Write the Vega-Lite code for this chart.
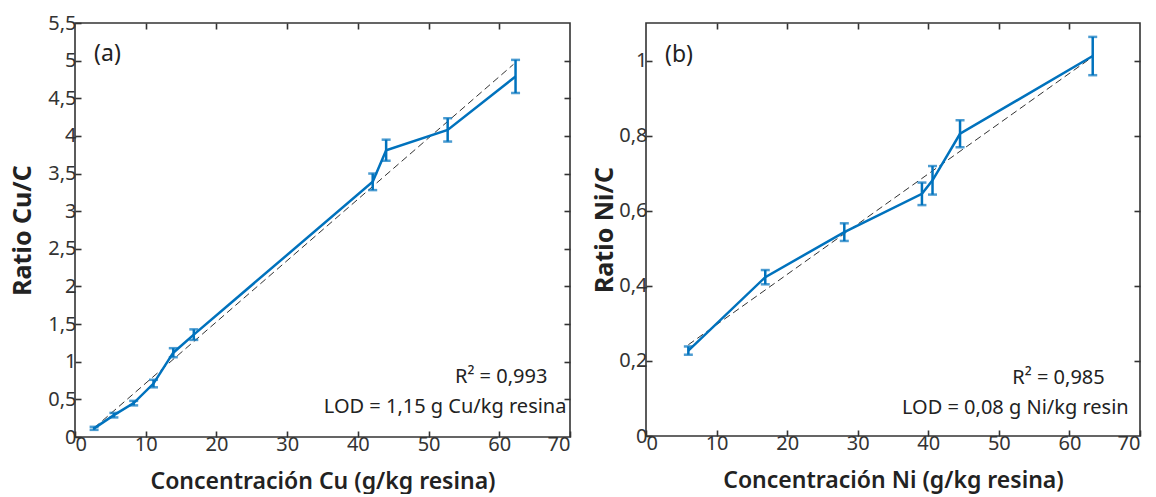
{
  "$schema": "https://vega.github.io/schema/vega-lite/v6.json",
  "padding": {"left": 9, "top": 12, "right": 5, "bottom": 0},
  "spacing": 19,
  "config": {
    "font": "Noto Sans",
    "view": {"stroke": "#333", "strokeWidth": 1.6},
    "axis": {
      "domain": false,
      "grid": false,
      "tickColor": "#333",
      "tickSize": -6,
      "tickWidth": 1.6,
      "labelFontSize": 20,
      "labelColor": "#333",
      "labelFont": "Noto Sans",
      "labelFontWeight": "normal",
      "titleFont": "Noto Sans",
      "titleColor": "#222",
      "titleFontWeight": 600
    }
  },
  "datasets": {
    "one": [{"n": 1}],
    "cu": [
      {"conc": 2.7, "ratio": 0.115, "err": 0.02},
      {"conc": 5.5, "ratio": 0.29, "err": 0.03},
      {"conc": 8.3, "ratio": 0.45, "err": 0.03},
      {"conc": 11.1, "ratio": 0.71, "err": 0.05},
      {"conc": 13.9, "ratio": 1.12, "err": 0.06},
      {"conc": 16.8, "ratio": 1.36, "err": 0.07},
      {"conc": 42.1, "ratio": 3.39, "err": 0.11},
      {"conc": 44.0, "ratio": 3.81, "err": 0.14},
      {"conc": 52.7, "ratio": 4.08, "err": 0.155},
      {"conc": 62.3, "ratio": 4.79, "err": 0.22}
    ],
    "cuFit": [
      {"conc": 2.7, "ratio": 0.12},
      {"conc": 62.0, "ratio": 4.95}
    ],
    "ni": [
      {"conc": 6.0, "ratio": 0.2275, "err": 0.011},
      {"conc": 16.9, "ratio": 0.423, "err": 0.019},
      {"conc": 28.1, "ratio": 0.543, "err": 0.0235},
      {"conc": 39.1, "ratio": 0.645, "err": 0.03},
      {"conc": 40.6, "ratio": 0.681, "err": 0.038},
      {"conc": 44.5, "ratio": 0.805, "err": 0.036},
      {"conc": 63.3, "ratio": 1.012, "err": 0.051}
    ],
    "niFit": [
      {"conc": 6.0, "ratio": 0.243},
      {"conc": 63.3, "ratio": 1.01}
    ]
  },
  "hconcat": [
    {
      "width": 495,
      "height": 414,
      "resolve": {"axis": {"x": "independent", "y": "independent"}},
      "layer": [
        {
          "data": {"name": "cuFit"},
          "mark": {"type": "line", "color": "#333", "strokeWidth": 1, "strokeDash": [7, 4]},
          "encoding": {
            "x": {"field": "conc", "type": "quantitative", "scale": {"domain": [0, 70], "nice": false},
              "axis": {"orient": "bottom", "values": [0, 10, 20, 30, 40, 50, 60, 70], "labelPadding": 3, "title": "Concentración Cu (g/kg resina)", "titleFontSize": 23, "titlePadding": 16}},
            "y": {"field": "ratio", "type": "quantitative", "scale": {"domain": [0, 5.5], "nice": false},
              "axis": {"orient": "left", "values": [0, 0.5, 1, 1.5, 2, 2.5, 3, 3.5, 4, 4.5, 5, 5.5], "labelExpr": "replace(toString(datum.value), '.', ',')", "labelPadding": 5, "title": "Ratio Cu/C", "titleFontSize": 25, "titleFontWeight": 700, "titlePadding": 12}}
          }
        },
        {
          "data": {"name": "cuFit"},
          "mark": {"type": "line", "opacity": 0},
          "encoding": {
            "x": {"field": "conc", "type": "quantitative", "axis": {"orient": "top", "values": [10, 20, 30, 40, 50, 60], "labels": false, "title": null}},
            "y": {"field": "ratio", "type": "quantitative", "axis": {"orient": "right", "values": [0.5, 1, 1.5, 2, 2.5, 3, 3.5, 4, 4.5, 5], "labels": false, "title": null}}
          }
        },
        {
          "data": {"name": "cu"},
          "mark": {"type": "line", "color": "#0072BD", "strokeWidth": 2.5},
          "encoding": {
            "x": {"field": "conc", "type": "quantitative", "axis": null},
            "y": {"field": "ratio", "type": "quantitative", "axis": null}
          }
        },
        {
          "data": {"name": "cu"},
          "mark": {"type": "errorbar", "color": "#0072BD", "thickness": 2.5, "ticks": {"size": 9, "thickness": 2.5, "color": "#0072BD"}},
          "encoding": {
            "x": {"field": "conc", "type": "quantitative", "axis": null},
            "y": {"field": "ratio", "type": "quantitative", "axis": null},
            "yError": {"field": "err"}
          }
        },
        {
          "data": {"name": "one"},
          "mark": {"type": "text", "text": "(a)", "align": "left", "baseline": "alphabetic", "fontSize": 23, "fontWeight": 400, "color": "#222"},
          "encoding": {
            "x": {"datum": 2.7, "type": "quantitative", "axis": null},
            "y": {"datum": 4.99, "type": "quantitative", "axis": null}
          }
        },
        {
          "data": {"name": "one"},
          "mark": {"type": "text", "text": "R² = 0,993", "align": "right", "baseline": "alphabetic", "fontSize": 20, "fontWeight": 400, "color": "#222"},
          "encoding": {
            "x": {"datum": 66.8, "type": "quantitative", "axis": null},
            "y": {"datum": 0.72, "type": "quantitative", "axis": null}
          }
        },
        {
          "data": {"name": "one"},
          "mark": {"type": "text", "text": "LOD = 1,15 g Cu/kg resina", "align": "right", "baseline": "alphabetic", "fontSize": 20, "fontWeight": 400, "color": "#222"},
          "encoding": {
            "x": {"datum": 69.5, "type": "quantitative", "axis": null},
            "y": {"datum": 0.32, "type": "quantitative", "axis": null}
          }
        }
      ]
    },
    {
      "width": 494,
      "height": 413,
      "resolve": {"axis": {"x": "independent", "y": "independent"}},
      "layer": [
        {
          "data": {"name": "niFit"},
          "mark": {"type": "line", "color": "#333", "strokeWidth": 1, "strokeDash": [7, 4]},
          "encoding": {
            "x": {"field": "conc", "type": "quantitative", "scale": {"domain": [0, 70], "nice": false},
              "axis": {"orient": "bottom", "values": [0, 10, 20, 30, 40, 50, 60, 70], "labelPadding": 3, "title": "Concentración Ni (g/kg resina)", "titleFontSize": 23, "titlePadding": 16}},
            "y": {"field": "ratio", "type": "quantitative", "scale": {"domain": [0, 1.1], "nice": false},
              "axis": {"orient": "left", "values": [0, 0.2, 0.4, 0.6, 0.8, 1], "labelExpr": "replace(toString(datum.value), '.', ',')", "labelPadding": 5, "title": "Ratio Ni/C", "titleFontSize": 25, "titleFontWeight": 700, "titlePadding": 1}}
          }
        },
        {
          "data": {"name": "niFit"},
          "mark": {"type": "line", "opacity": 0},
          "encoding": {
            "x": {"field": "conc", "type": "quantitative", "axis": {"orient": "top", "values": [10, 20, 30, 40, 50, 60], "labels": false, "title": null}},
            "y": {"field": "ratio", "type": "quantitative", "axis": {"orient": "right", "values": [0.2, 0.4, 0.6, 0.8, 1], "labels": false, "title": null}}
          }
        },
        {
          "data": {"name": "ni"},
          "mark": {"type": "line", "color": "#0072BD", "strokeWidth": 2.5},
          "encoding": {
            "x": {"field": "conc", "type": "quantitative", "axis": null},
            "y": {"field": "ratio", "type": "quantitative", "axis": null}
          }
        },
        {
          "data": {"name": "ni"},
          "mark": {"type": "errorbar", "color": "#0072BD", "thickness": 2.5, "ticks": {"size": 9, "thickness": 2.5, "color": "#0072BD"}},
          "encoding": {
            "x": {"field": "conc", "type": "quantitative", "axis": null},
            "y": {"field": "ratio", "type": "quantitative", "axis": null},
            "yError": {"field": "err"}
          }
        },
        {
          "data": {"name": "one"},
          "mark": {"type": "text", "text": "(b)", "align": "left", "baseline": "alphabetic", "fontSize": 23, "fontWeight": 400, "color": "#222"},
          "encoding": {
            "x": {"datum": 2.7, "type": "quantitative", "axis": null},
            "y": {"datum": 0.997, "type": "quantitative", "axis": null}
          }
        },
        {
          "data": {"name": "one"},
          "mark": {"type": "text", "text": "R² = 0,985", "align": "right", "baseline": "alphabetic", "fontSize": 20, "fontWeight": 400, "color": "#222"},
          "encoding": {
            "x": {"datum": 65.0, "type": "quantitative", "axis": null},
            "y": {"datum": 0.139, "type": "quantitative", "axis": null}
          }
        },
        {
          "data": {"name": "one"},
          "mark": {"type": "text", "text": "LOD = 0,08 g Ni/kg resin", "align": "right", "baseline": "alphabetic", "fontSize": 20, "fontWeight": 400, "color": "#222"},
          "encoding": {
            "x": {"datum": 68.4, "type": "quantitative", "axis": null},
            "y": {"datum": 0.059, "type": "quantitative", "axis": null}
          }
        }
      ]
    }
  ]
}
